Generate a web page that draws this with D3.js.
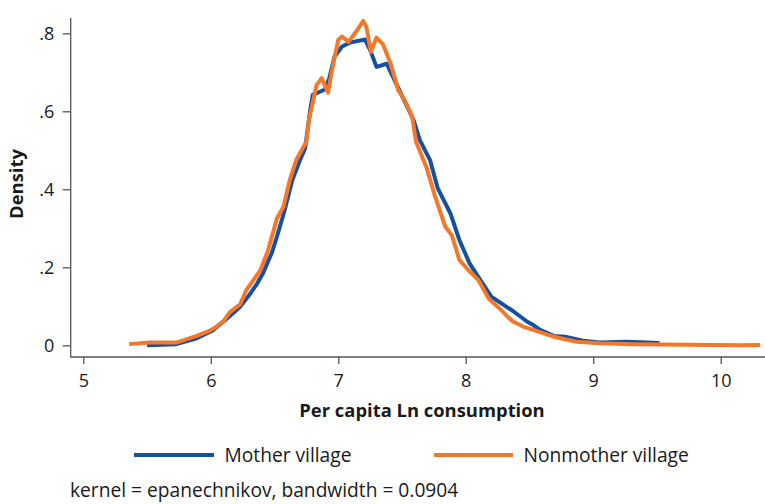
<!DOCTYPE html>
<html><head><meta charset="utf-8">
<script src="https://cdn.jsdelivr.net/npm/d3@7"></script>
<style>body{margin:0;background:#fff}svg{display:block}text{font-family:"Open Sans",sans-serif;fill:#1a1a1a}</style>
</head><body><svg id="c" width="765" height="504"></svg>
<script>
const xTicks = [5, 6, 7, 8, 9, 10];
const yTicks = [0, 0.2, 0.4, 0.6, 0.8];
const seriesNames = ["Mother village", "Nonmother village"];
const motherX = [5.50,5.73,5.89,6.02,6.16,6.23,6.30,6.365,6.41,6.48,6.52,6.574,6.64,6.70,6.74,6.78,6.80,6.895,6.93,6.97,7.03,7.09,7.21,7.25,7.30,7.38,7.46,7.51,7.59,7.64,7.72,7.78,7.88,7.95,8.03,8.11,8.20,8.37,8.48,8.53,8.58,8.69,8.78,8.92,9.05,9.26,9.37,9.52];
const motherY = [0.000,0.003,0.018,0.039,0.078,0.099,0.128,0.159,0.185,0.238,0.280,0.340,0.424,0.475,0.505,0.603,0.642,0.656,0.685,0.740,0.766,0.776,0.784,0.757,0.714,0.722,0.667,0.633,0.578,0.526,0.475,0.403,0.338,0.270,0.210,0.170,0.125,0.088,0.061,0.052,0.040,0.024,0.022,0.012,0.007,0.009,0.008,0.006];
const nonmotherX = [5.36,5.52,5.73,5.89,5.99,6.05,6.10,6.15,6.23,6.28,6.39,6.45,6.52,6.57,6.62,6.67,6.75,6.77,6.83,6.87,6.92,6.96,7.00,7.03,7.08,7.14,7.196,7.22,7.256,7.30,7.35,7.41,7.47,7.52,7.58,7.61,7.69,7.76,7.84,7.89,7.95,8.02,8.10,8.18,8.25,8.33,8.37,8.45,8.57,8.69,8.87,9.05,9.31,9.97,10.15,10.31];
const nonmotherY = [0.003,0.007,0.007,0.024,0.037,0.049,0.062,0.085,0.105,0.142,0.193,0.244,0.326,0.355,0.424,0.475,0.522,0.578,0.667,0.685,0.648,0.720,0.783,0.792,0.778,0.804,0.832,0.817,0.752,0.789,0.772,0.723,0.655,0.629,0.586,0.522,0.458,0.381,0.304,0.283,0.219,0.193,0.167,0.120,0.099,0.073,0.061,0.048,0.035,0.022,0.009,0.005,0.003,0.001,0.000,0.001];
const colors = ["#1650a2", "#f5772a"];

const svg = d3.select("#c");
const x = d3.scaleLinear().domain([5, 10]).range([83.3, 720.7]);
const y = d3.scaleLinear().domain([0, 0.8]).range([345.3, 33.3]);
const axisColor = "#555";

// axis lines
svg.append("line").attr("x1", 70.7).attr("x2", 70.7).attr("y1", 18).attr("y2", 357.5).attr("stroke", axisColor).attr("stroke-width", 1.3);
svg.append("line").attr("x1", 70.7).attr("x2", 765).attr("y1", 357).attr("y2", 357).attr("stroke", axisColor).attr("stroke-width", 1.3);

const fmt = d => d === 0 ? "0" : String(d).replace(/^0/, "");
const ya = svg.append("g").attr("transform", "translate(70.7,0)")
  .call(d3.axisLeft(y).tickValues(yTicks).tickFormat(fmt).tickSize(8).tickPadding(8.5));
const xa = svg.append("g").attr("transform", "translate(0,357)")
  .call(d3.axisBottom(x).tickValues(xTicks).tickFormat(d3.format("d")).tickSize(7).tickPadding(10));
[ya, xa].forEach(g => {
  g.select(".domain").remove();
  g.selectAll(".tick line").attr("stroke", axisColor).attr("stroke-width", 1.3);
  g.selectAll(".tick text").style("font-family", '"Open Sans",sans-serif').attr("font-size", 18).attr("fill", "#1a1a1a");
});

const line = d3.line().x(d => x(d[0])).y(d => y(d[1])).curve(d3.curveLinear);
const series = [d3.zip(motherX, motherY), d3.zip(nonmotherX, nonmotherY)];
series.forEach((s, i) => {
  svg.append("path").datum(s).attr("d", line).attr("fill", "none")
    .attr("stroke", colors[i]).attr("stroke-width", 4).attr("stroke-linejoin", "round");
});

svg.append("text").attr("x", 422).attr("y", 417).attr("text-anchor", "middle")
  .attr("font-size", 18.4).attr("font-weight", "bold").text("Per capita Ln consumption");
svg.append("text").attr("transform", "translate(23,184) rotate(-90)").attr("text-anchor", "middle")
  .attr("font-size", 18.4).attr("font-weight", "bold").text("Density");

// legend
const leg = [{x1:134, x2:214, tx:224.5}, {x1:434, x2:513, tx:523.5}];
leg.forEach((l, i) => {
  svg.append("line").attr("x1", l.x1).attr("x2", l.x2).attr("y1", 455).attr("y2", 455)
    .attr("stroke", colors[i]).attr("stroke-width", 4);
  svg.append("text").attr("x", l.tx).attr("y", 462).attr("font-size", 19.2).text(seriesNames[i]);
});

svg.append("text").attr("x", 70).attr("y", 496.5).attr("font-size", 19.2)
  .text("kernel = epanechnikov, bandwidth = 0.0904");
</script></body></html>
